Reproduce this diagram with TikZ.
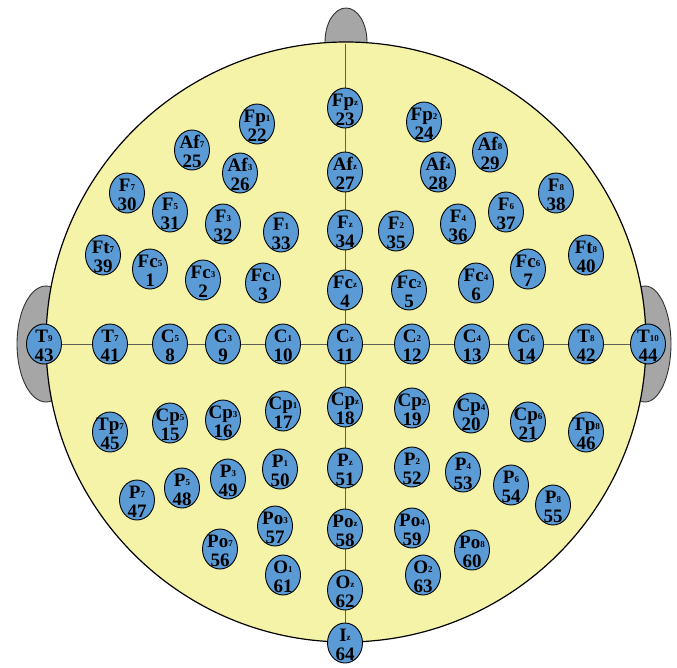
\documentclass[tikz,border=0pt]{standalone}
\usepackage{fontspec}
\setmainfont{Liberation Serif}
\usetikzlibrary{shapes.geometric}
\definecolor{headyel}{RGB}{245,243,168}
\definecolor{elblue}{RGB}{91,155,213}
\definecolor{eargray}{RGB}{166,166,166}
\definecolor{axisgray}{RGB}{95,95,85}
\pgfdeclarelayer{bglayer}
\pgfdeclarelayer{midlayer}
\pgfsetlayers{bglayer,midlayer,main}
\newcommand{\sbs}[1]{\raisebox{0.8pt}{\fontsize{9}{9}\selectfont #1}}
\newcommand{\elec}[6]{%
  \node[elec] (#1) at (#2,#3) {};
  \node[elab] (#1t) at (#2,#3+1.5) {#4\sbs{#5}\\#6};}
\tikzset{
  elec/.style={ellipse, draw=black, line width=0.9pt, fill=elblue,
    minimum width=35pt, minimum height=40pt, inner sep=0pt},
  elab/.style={align=center, inner sep=0pt,
    font={\fontsize{19}{19}\selectfont\bfseries}},
  axisline/.style={draw=axisgray, line width=0.8pt},
  earshape/.style={fill=eargray, draw=black!80, line width=0.9pt},
}
\begin{document}
\begin{tikzpicture}[x=1pt,y=-1pt]
\useasboundingbox (0,0) rectangle (677,667);
\begin{pgfonlayer}{bglayer}
  \path[earshape] (346,42) ellipse [x radius=21pt, y radius=34pt];
  \path[earshape] (46,344) ellipse [x radius=29pt, y radius=58pt];
  \path[earshape] (645,344) ellipse [x radius=26pt, y radius=58pt];
  \draw[fill=headyel, line width=1.2pt] (346,342) circle [radius=300pt];
\end{pgfonlayer}
\coordinate (vtop) at (345,44);
% row Fp
\elec{Fpz}{345}{108}{Fp}{z}{23}
\elec{Fp1}{257}{124}{Fp}{1}{22}
\elec{Fp2}{424}{122}{Fp}{2}{24}
% row Af
\elec{Af7}{192}{150}{Af}{7}{25}
\elec{Af3}{240}{173}{Af}{3}{26}
\elec{Afz}{345}{172}{Af}{z}{27}
\elec{Af4}{438}{172}{Af}{4}{28}
\elec{Af8}{490}{152}{Af}{8}{29}
% row F
\elec{F7}{127}{193}{F}{7}{30}
\elec{F5}{170}{212}{F}{5}{31}
\elec{F3}{223}{224}{F}{3}{32}
\elec{F1}{281}{232}{F}{1}{33}
\elec{Fz}{345}{230}{F}{z}{34}
\elec{F2}{396}{231}{F}{2}{35}
\elec{F4}{458}{224}{F}{4}{36}
\elec{F6}{506}{212}{F}{6}{37}
\elec{F8}{556}{193}{F}{8}{38}
% row Fc
\elec{Ft7}{103}{255}{Ft}{7}{39}
\elec{Fc5}{150}{269}{Fc}{5}{1}
\elec{Fc3}{203}{280}{Fc}{3}{2}
\elec{Fc1}{263}{283}{Fc}{1}{3}
\elec{Fcz}{345}{290}{Fc}{z}{4}
\elec{Fc2}{409}{290}{Fc}{2}{5}
\elec{Fc4}{476}{283}{Fc}{4}{6}
\elec{Fc6}{528}{269}{Fc}{6}{7}
\elec{Ft8}{586}{255}{Ft}{8}{40}
% row C
\elec{T9}{44}{344}{T}{9}{43}
\elec{T7}{110}{344}{T}{7}{41}
\elec{C5}{170}{344}{C}{5}{8}
\elec{C3}{223}{344}{C}{3}{9}
\elec{C1}{283}{344}{C}{1}{10}
\elec{Cz}{345}{344}{C}{z}{11}
\elec{C2}{412}{344}{C}{2}{12}
\elec{C4}{472}{344}{C}{4}{13}
\elec{C6}{526}{344}{C}{6}{14}
\elec{T8}{586}{344}{T}{8}{42}
\elec{T10}{648}{344}{T}{10}{44}
% row Cp
\elec{Tp7}{110}{432}{Tp}{7}{45}
\elec{Cp5}{170}{423}{Cp}{5}{15}
\elec{Cp3}{223}{420}{Cp}{3}{16}
\elec{Cp1}{283}{411}{Cp}{1}{17}
\elec{Cpz}{345}{407}{Cp}{z}{18}
\elec{Cp2}{412}{408}{Cp}{2}{19}
\elec{Cp4}{471}{413}{Cp}{4}{20}
\elec{Cp6}{528}{422}{Cp}{6}{21}
\elec{Tp8}{586}{432}{Tp}{8}{46}
% row P
\elec{P7}{137}{500}{P}{7}{47}
\elec{P5}{182}{488}{P}{5}{48}
\elec{P3}{228}{479}{P}{3}{49}
\elec{P1}{280}{469}{P}{1}{50}
\elec{Pz}{345}{468}{P}{z}{51}
\elec{P2}{412}{467}{P}{2}{52}
\elec{P4}{463}{472}{P}{4}{53}
\elec{P6}{511}{485}{P}{6}{54}
\elec{P8}{553}{505}{P}{8}{55}
% row Po
\elec{Po7}{220}{549}{Po}{7}{56}
\elec{Po3}{275}{526}{Po}{3}{57}
\elec{Poz}{345}{529}{Po}{z}{58}
\elec{Po4}{412}{528}{Po}{4}{59}
\elec{Po8}{472}{550}{Po}{8}{60}
% row O
\elec{O1}{283}{575}{O}{1}{61}
\elec{Oz}{345}{590}{O}{z}{62}
\elec{O2}{423}{575}{O}{2}{63}
\elec{Iz}{345}{643}{I}{z}{64}
\begin{pgfonlayer}{midlayer}
  \draw[axisline] (vtop) -- (Iz.center);
  \draw[axisline] (T9.center) -- (T10.center);
\end{pgfonlayer}
\end{tikzpicture}
\end{document}
